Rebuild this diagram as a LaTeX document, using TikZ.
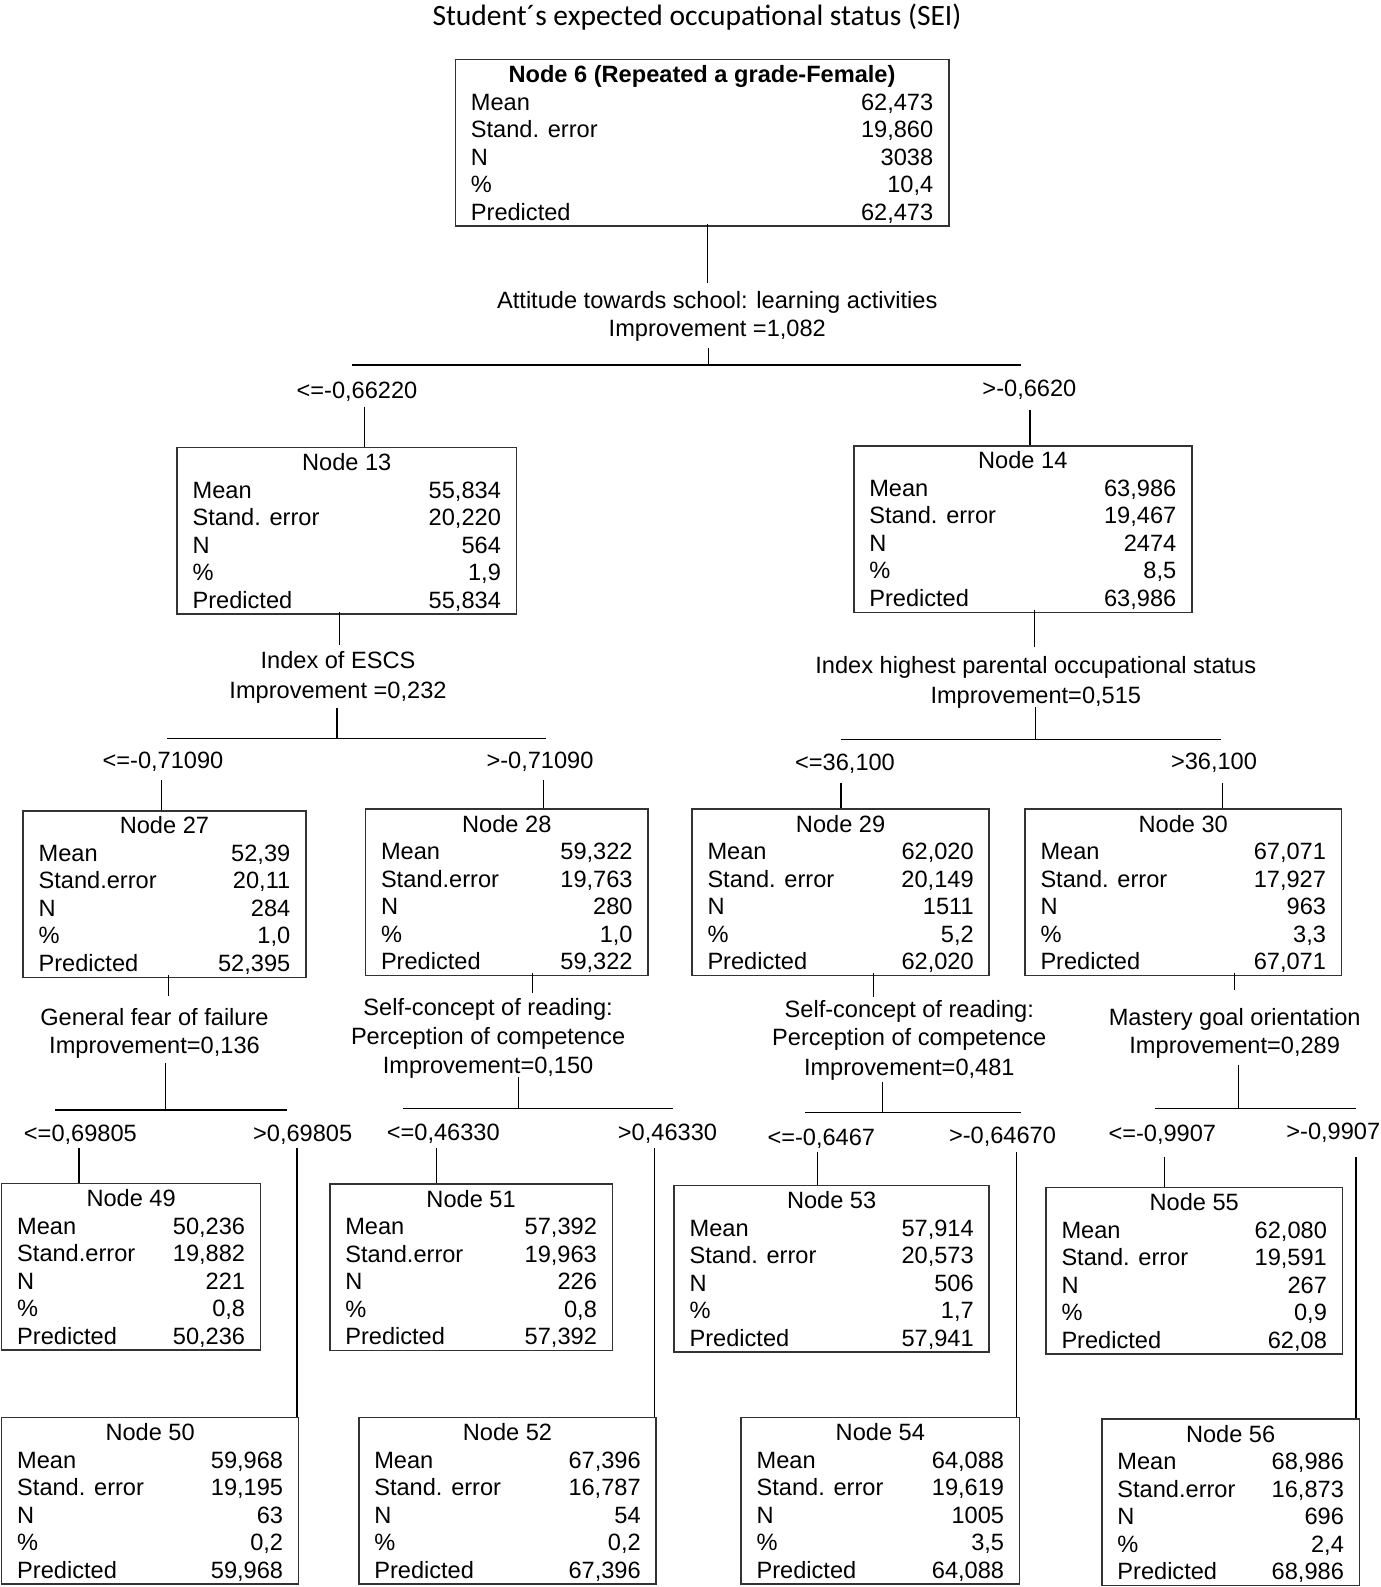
\documentclass[tikz,border=0pt]{standalone}
\usepackage{fontspec}
\setmainfont{Liberation Sans}
\newfontfamily\ttlfont{Carlito}
\tikzset{
  statbox/.style={draw=black!80, line width=0.8pt, inner xsep=7.75pt, inner ysep=0pt,
    anchor=north west, font=\fontsize{11.8}{13.75}\selectfont},
  lbl/.style={inner sep=0pt, anchor=base, font=\fontsize{11.8}{13.75}\selectfont},
  ttl/.style={inner sep=0pt, anchor=base, font=\ttlfont\fontsize{14.75}{16}\selectfont},
  conn/.style={line width=0.6pt, draw=black},
  stem/.style={conn, shorten <=-1.5pt},
}
\newcommand\statcontent[8]{\vbox{\hsize=#1pt\baselineskip=13.75pt\lineskiplimit=-20pt
  \hbox to\hsize{\hss\rule{0pt}{11.5pt}#2\hss}%
  \hbox to\hsize{Mean\hfill#3}%
  \hbox to\hsize{#4\hfill#5}%
  \hbox to\hsize{N\hfill#6}%
  \hbox to\hsize{\%\hfill#7}%
  \hbox to\hsize{\rule[-3pt]{0pt}{3pt}Predicted\hfill#8}}}
\newcommand\statbox[9]{\node[statbox] (n#1) at (#2) {\statcontent{#3}{Node #1}{#4}{#5}{#6}{#7}{#8}{#9}};}
\begin{document}
\begin{tikzpicture}[x=0.5pt,y=-0.5pt]
\useasboundingbox (0,0) rectangle (1381,1587);
\node[ttl] (title) at (697,25) {Student´s expected occupational status (SEI)};

% ---------- boxes ----------
\node[statbox] (n6) at (454.6,58.7) {\statcontent{231.15}{\textbf{Node 6 (Repeated a grade-Female)}}{62,473}{Stand. error}{19,860}{3038}{10,4}{62,473}};
\statbox{13}{176.3,446.7}{154.15}{55,834}{Stand. error}{20,220}{564}{1,9}{55,834}
\statbox{14}{853,445}{153.5}{63,986}{Stand. error}{19,467}{2474}{8,5}{63,986}
\statbox{27}{22.3,810}{125.85}{52,39}{Stand.error}{20,11}{284}{1,0}{52,395}
\statbox{28}{364.7,808.3}{125.8}{59,322}{Stand.error}{19,763}{280}{1,0}{59,322}
\statbox{29}{691.2,808.3}{133.1}{62,020}{Stand. error}{20,149}{1511}{5,2}{62,020}
\statbox{30}{1024.2,808.3}{142.75}{67,071}{Stand. error}{17,927}{963}{3,3}{67,071}
\statbox{49}{0.9,1182.7}{113.95}{50,236}{Stand.error}{19,882}{221}{0,8}{50,236}
\statbox{50}{0.9,1416.7}{132.95}{59,968}{Stand. error}{19,195}{63}{0,2}{59,968}
\statbox{51}{329,1183.3}{125.8}{57,392}{Stand.error}{19,963}{226}{0,8}{57,392}
\statbox{52}{358,1416.7}{133.2}{67,396}{Stand. error}{16,787}{54}{0,2}{67,396}
\statbox{53}{673.3,1184.7}{142.05}{57,914}{Stand. error}{20,573}{506}{1,7}{57,941}
\statbox{54}{740.3,1416.7}{123.75}{64,088}{Stand. error}{19,619}{1005}{3,5}{64,088}
\statbox{55}{1045.2,1186.7}{132.7}{62,080}{Stand. error}{19,591}{267}{0,9}{62,08}
\statbox{56}{1101.1,1418.3}{113.25}{68,986}{Stand.error}{16,873}{696}{2,4}{68,986}

% ---------- split labels ----------
\node[lbl] (s6a) at (717.3,308.3) {Attitude towards school: learning activities};
\node[lbl] (s6b) at (717.3,336.7) {Improvement =1,082};
\node[lbl] (c13) at (357,398.3) {<=-0,66220};
\node[lbl] (c14) at (1029.4,396.7) {>-0,6620};

\node[lbl] (s13a) at (338,668.3) {Index of ESCS};
\node[lbl] (s13b) at (338,698.3) {Improvement =0,232};
\node[lbl] (s14a) at (1035.8,673.3) {Index highest parental occupational status};
\node[lbl] (s14b) at (1035.8,703.3) {Improvement=0,515};
\node[lbl] (c27) at (163,768.3) {<=-0,71090};
\node[lbl] (c28) at (540,768.3) {>-0,71090};
\node[lbl] (c29) at (845,770) {<=36,100};
\node[lbl] (c30) at (1214,769) {>36,100};

\node[lbl] (s27a) at (154.5,1025) {General fear of failure};
\node[lbl] (s27b) at (154.5,1053.3) {Improvement=0,136};
\node[lbl] (s28a) at (488.1,1015) {Self-concept of reading:};
\node[lbl] (s28b) at (488.1,1044.3) {Perception of competence};
\node[lbl] (s28c) at (488.1,1073.3) {Improvement=0,150};
\node[lbl] (s29a) at (909.3,1017.3) {Self-concept of reading:};
\node[lbl] (s29b) at (909.3,1045) {Perception of competence};
\node[lbl] (s29c) at (909.3,1075) {Improvement=0,481};
\node[lbl] (s30a) at (1234.7,1025) {Mastery goal orientation};
\node[lbl] (s30b) at (1234.7,1053.3) {Improvement=0,289};

\node[lbl] (c49) at (80.4,1141.7) {<=0,69805};
\node[lbl] (c50) at (302.7,1141.7) {>0,69805};
\node[lbl] (c51) at (443.3,1140) {<=0,46330};
\node[lbl] (c52) at (667.5,1140) {>0,46330};
\node[lbl] (c53) at (821.3,1145) {<=-0,6467};
\node[lbl] (c54) at (1002.5,1143.3) {>-0,64670};
\node[lbl] (c55) at (1162.3,1141) {<=-0,9907};
\node[lbl] (c56) at (1333.3,1139.3) {>-0,9907};

% ---------- connector coordinates ----------
\coordinate (t6) at (707.5,283.3);  \coordinate (u6) at (708.6,348.3);  \coordinate (j6) at (708.6,365);
\coordinate (l6) at (352.3,365);    \coordinate (r6) at (1020.6,365);
\coordinate (d13) at (364.7,406.7); \coordinate (d14) at (1030,410);

\coordinate (t13) at (339.3,645);   \coordinate (u13) at (337,708.3);   \coordinate (j13) at (337,738.3);
\coordinate (l13) at (167.4,738.3); \coordinate (r13) at (545.5,738.3);
\coordinate (d27) at (161.6,780);   \coordinate (d28) at (543.8,780);

\coordinate (t14) at (1034.5,646.7); \coordinate (u14) at (1035.4,707.3); \coordinate (j14) at (1035.4,739.3);
\coordinate (l14) at (841,739.3);    \coordinate (r14) at (1220.9,739.3);
\coordinate (d29) at (841,783.3);    \coordinate (d30) at (1222.2,783.3);

\coordinate (t27) at (168.3,996);   \coordinate (u27) at (165.2,1063.3); \coordinate (j27) at (165.2,1110);
\coordinate (l27) at (54.9,1110);   \coordinate (r27) at (286.6,1110);
\coordinate (d49) at (79,1148.3);   \coordinate (d50) at (296.9,1148.3);

\coordinate (t28) at (532.6,993.3); \coordinate (u28) at (518.8,1076.7); \coordinate (j28) at (518.8,1108.3);
\coordinate (l28) at (403.1,1108.3); \coordinate (r28) at (673.2,1108.3);
\coordinate (d51) at (436.6,1148.3); \coordinate (d52) at (654.5,1148.3);

\coordinate (t29) at (873.6,997.3); \coordinate (u29) at (882.5,1081.7); \coordinate (j29) at (882.5,1112.3);
\coordinate (l29) at (805.2,1112.3); \coordinate (r29) at (1021.1,1112.3);
\coordinate (d53) at (817.2,1151.7); \coordinate (d54) at (1016.6,1151.7);

\coordinate (t30) at (1234.3,990);  \coordinate (u30) at (1238.8,1065); \coordinate (j30) at (1238.8,1108.3);
\coordinate (l30) at (1154.7,1108.3); \coordinate (r30) at (1355.9,1108.3);
\coordinate (d55) at (1164.1,1156.7); \coordinate (d56) at (1355.9,1156.7);

% ---------- connectors ----------
\foreach \p in {6,13,14,27,28,29,30}{
  \draw[stem] (n\p.south -| t\p) -- (t\p);
  \draw[conn] (u\p) -- (j\p);
  \draw[conn] (l\p) -- (r\p);
}
\foreach \c in {13,14,27,28,29,30,49,51,53,55}{
  \draw[conn] (d\c) -- (n\c.north -| d\c);
}
\foreach \c in {50,52,54,56}{
  \draw[conn] (d\c) -- (d\c |- n\c.north);
}
\end{tikzpicture}
\end{document}
